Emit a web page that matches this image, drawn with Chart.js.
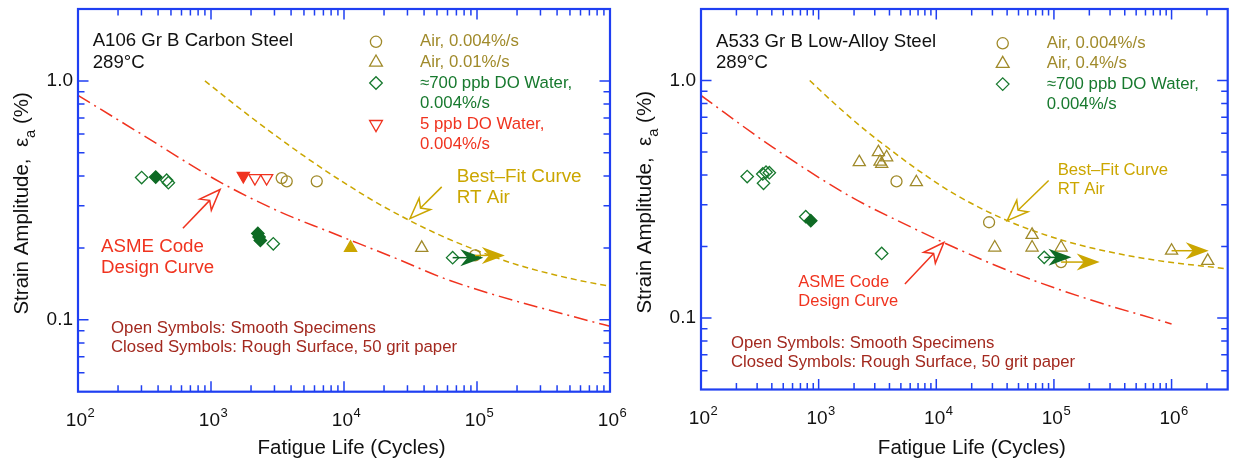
<!DOCTYPE html>
<html>
<head>
<meta charset="utf-8">
<script src="https://cdn.jsdelivr.net/npm/chart.js@4.4.1/dist/chart.umd.min.js"></script>
<style>
  body { margin: 0; background: #fff; }
  #wrap { position: relative; width: 1236px; height: 460px; overflow: hidden; background: #fff; }
  canvas { position: absolute; top: 0; }
</style>
</head>
<body>
<div id="wrap">
  <canvas id="leftChart" width="640" height="460" style="left:0"></canvas>
  <canvas id="rightChart" width="618" height="460" style="left:618px"></canvas>
</div>
<script>
const FONT = '"Liberation Sans", Arial, Helvetica, sans-serif'
const BLUE = '#1f3ff2'
const OLIVE = '#a08a2a'
const GOLD = '#cba600'
const GREEN = '#17792e'
const GREEN_DARK = '#0e6a24'
const RED = '#f0331f'
const BROWN = '#a3291f'

// axis ticks
const xTickDecades = [1e2, 1e3, 1e4, 1e5, 1e6]
const xTickExponents = ['2', '3', '4', '5', '6']
const yTickDecades = [0.01, 0.1, 1]
const yTickValues = [0.1, 1.0]
const yTickLabels = ['0.1', '1.0']
const minorSteps = [2, 3, 4, 5, 6, 7, 8, 9]

// A106 Gr B carbon steel, [cycles, strain %]
const csAirSlow = [[3400, 0.392], [3710, 0.380], [6240, 0.380], [96600, 0.186]]
const csAirFast = [[38400, 0.200]]
const csAirFastRough = [[11200, 0.200]]
const csWaterHigh = [[301, 0.394], [464, 0.384], [478, 0.375], [2940, 0.208], [65600, 0.182]]
const csWaterHighRough = [[384, 0.396], [2250, 0.230], [2300, 0.222], [2350, 0.215]]
const csWaterLow = [[2140, 0.392], [2620, 0.392]]
const csWaterLowRough = [[1750, 0.400]]
// runouts: [failed at N, arrow to N, strain]
const csRunoutsGreen = [[65600, 111500, 0.182]]
const csRunoutsGold = [[96600, 162000, 0.186]]
const csBestFitN = [900, 2000, 5000, 10000, 20000, 50000, 100000, 200000, 500000, 1000000]
const csBestFitE = [1.0, 0.705, 0.485, 0.375, 0.297, 0.229, 0.195, 0.170, 0.149, 0.138]
const csAsmeN = [100, 292, 1170, 3300, 7850, 25000, 62600, 745000, 1000000]
const csAsmeE = [0.87, 0.604, 0.377, 0.283, 0.233, 0.180, 0.146, 0.098, 0.094]

// A533 Gr B low-alloy steel
const lasAirSlow = [[4590, 0.376], [28100, 0.253], [115000, 0.172]]
const lasAirFast = [[2215, 0.453], [3220, 0.499], [3325, 0.455], [3435, 0.446], [3785, 0.475],
  [6770, 0.373], [31400, 0.198], [65200, 0.224], [65200, 0.198], [115000, 0.198],
  [1000000, 0.192], [2030000, 0.174]]
const lasWaterHigh = [[247, 0.394], [335, 0.404], [340, 0.369], [357, 0.411], [381, 0.409],
  [777, 0.267], [3435, 0.187], [82700, 0.180]]
const lasWaterHighRough = [[857, 0.257]]
const lasRunoutsGreen = [[82700, 141000, 0.180]]
const lasRunoutsGold = [[115000, 245000, 0.172], [1000000, 2070000, 0.192]]
const lasBestFitN = [840, 1400, 2570, 3790, 7460, 14700, 40100, 106000, 279000, 736000, 3000000]
const lasBestFitE = [1.0, 0.79, 0.61, 0.525, 0.41, 0.33, 0.257, 0.216, 0.191, 0.175, 0.161]
const lasAsmeN = [100, 406, 1920, 6150, 14300, 48600, 177000, 1000000]
const lasAsmeE = [0.865, 0.524, 0.322, 0.241, 0.198, 0.153, 0.122, 0.0944]

const pts = arr => arr.map(([n, e]) => ({ x: n, y: e }))

function marker(arr, style, color, filled, r, rot) {
  return {
    data: pts(arr), showLine: false, order: 1,
    pointStyle: style, pointRadius: r, pointHoverRadius: r, pointRotation: rot || 0,
    pointBorderColor: color, pointBackgroundColor: filled ? color : 'rgba(0,0,0,0)',
    pointBorderWidth: 1.3,
  }
}

function curve(ns, es, color, dash) {
  return {
    data: ns.map((n, i) => ({ x: n, y: es[i] })), showLine: true, order: 2,
    borderColor: color, borderWidth: 1.5, borderDash: dash, pointRadius: 0,
    cubicInterpolationMode: 'monotone', fill: false,
  }
}

function shapePath(ctx, shape, x, y, r) {
  ctx.beginPath()
  if (shape === 'circle') {
    ctx.arc(x, y, r, 0, Math.PI * 2)
  } else if (shape === 'diamond') {
    ctx.moveTo(x - r, y); ctx.lineTo(x, y - r); ctx.lineTo(x + r, y); ctx.lineTo(x, y + r); ctx.closePath()
  } else {
    const s = shape === 'triangle' ? 1 : -1
    const h = r * Math.sqrt(3) / 2
    ctx.moveTo(x, y - s * r); ctx.lineTo(x + h, y + s * r / 2); ctx.lineTo(x - h, y + s * r / 2); ctx.closePath()
  }
}

// barbed arrow head, tip at (tx,ty) pointing along ang
function headPath(ctx, tx, ty, ang, len, half, notch) {
  const c = Math.cos(ang), s = Math.sin(ang)
  const p = (u, v) => [tx + u * c - v * s, ty + u * s + v * c]
  ctx.beginPath()
  ctx.moveTo(tx, ty)
  ctx.lineTo(...p(-len, -half))
  ctx.lineTo(...p(-len + notch, 0))
  ctx.lineTo(...p(-len, half))
  ctx.closePath()
}

function runout(ctx, x, y, [n0, n1, e], color) {
  const x0 = x.getPixelForValue(n0), x1 = x.getPixelForValue(n1), py = y.getPixelForValue(e)
  ctx.strokeStyle = color; ctx.fillStyle = color; ctx.lineWidth = 1.5; ctx.setLineDash([])
  ctx.beginPath(); ctx.moveTo(x0, py); ctx.lineTo(x1 - 12, py); ctx.stroke()
  headPath(ctx, x1, py, 0, 23, 8.5, 7)
  ctx.fill()
}

function pointer(ctx, x, y, p) {
  const tx = x.getPixelForValue(p.from[0]), ty = y.getPixelForValue(p.from[1])
  const hx = x.getPixelForValue(p.to[0]), hy = y.getPixelForValue(p.to[1])
  const ang = Math.atan2(hy - ty, hx - tx)
  const back = 21 - 6
  ctx.strokeStyle = p.color; ctx.lineWidth = 1.5; ctx.setLineDash([])
  ctx.beginPath(); ctx.moveTo(tx, ty)
  ctx.lineTo(hx - back * Math.cos(ang), hy - back * Math.sin(ang)); ctx.stroke()
  headPath(ctx, hx, hy, ang, 21, 8, 6)
  ctx.fillStyle = '#fff'; ctx.fill(); ctx.stroke()
}

function text(ctx, str, x, y, size, color, align) {
  ctx.font = size + 'px ' + FONT
  ctx.fillStyle = color
  ctx.textAlign = align || 'left'
  ctx.textBaseline = 'middle'
  ctx.fillText(str, x, y)
}

function drawFrame(ctx, a, x, y) {
  ctx.strokeStyle = BLUE; ctx.lineWidth = 1.5; ctx.setLineDash([])
  ctx.beginPath()
  for (const d of xTickDecades) {
    for (const m of [1, ...minorSteps]) {
      const v = d * m
      if (v <= x.min || v >= x.max) continue
      const px = x.getPixelForValue(v), len = m === 1 ? 10.5 : 6.5
      ctx.moveTo(px, a.bottom); ctx.lineTo(px, a.bottom - len)
      ctx.moveTo(px, a.top); ctx.lineTo(px, a.top + len)
    }
  }
  for (const d of yTickDecades) {
    for (const m of [1, ...minorSteps]) {
      const v = d * m
      if (v <= y.min * 1.001 || v >= 1.001) continue
      const py = y.getPixelForValue(v), len = m === 1 ? 10.5 : 6.5
      ctx.moveTo(a.left, py); ctx.lineTo(a.left + len, py)
      ctx.moveTo(a.right, py); ctx.lineTo(a.right - len, py)
    }
  }
  ctx.stroke()
  ctx.lineWidth = 2.2
  ctx.strokeRect(a.left, a.top, a.right - a.left, a.bottom - a.top)
}

function drawAxisLabels(ctx, a, x, y, p) {
  yTickValues.forEach((v, i) => text(ctx, yTickLabels[i], a.left - 5, y.getPixelForValue(v), 19, '#111', 'right'))
  xTickDecades.forEach((d, i) => {
    if (d < x.min || d > x.max) return
    const px = x.getPixelForValue(d), py = a.bottom + 27.3
    ctx.font = '19px ' + FONT
    const w1 = ctx.measureText('10').width
    ctx.font = '13px ' + FONT
    const w2 = ctx.measureText(xTickExponents[i]).width
    const x0 = px + 2 - (w1 + w2) / 2
    ctx.fillStyle = '#111'; ctx.textAlign = 'left'; ctx.textBaseline = 'alphabetic'
    ctx.font = '19px ' + FONT
    ctx.fillText('10', x0, py + 6.8)
    ctx.font = '13px ' + FONT
    ctx.fillText(xTickExponents[i], x0 + w1 + 0.5, py - 1.6)
  })
  // x title
  text(ctx, 'Fatigue Life (Cycles)', (a.left + a.right) / 2 + 7.5, 448.3, 20.5, '#111', 'center')
  // y title with subscript
  const size = 20.5
  const parts = [['Strain Amplitude,  ε', size, 0], ['a', size * 0.72, size * 0.3], [' (%)', size, 0]]
  ctx.save()
  ctx.translate(a.left - 57, (a.top + a.bottom) / 2 + 3)
  ctx.rotate(-Math.PI / 2)
  let total = 0
  for (const [s, f] of parts) { ctx.font = f + 'px ' + FONT; total += ctx.measureText(s).width }
  let cx = -total / 2
  ctx.fillStyle = '#111'; ctx.textAlign = 'left'; ctx.textBaseline = 'alphabetic'
  for (const [s, f, dy] of parts) {
    ctx.font = f + 'px ' + FONT
    ctx.fillText(s, cx, size * 0.36 + dy)
    cx += ctx.measureText(s).width
  }
  ctx.restore()
}

function panelPlugin(p) {
  return {
    id: 'panel',
    afterDatasetsDraw(chart) {
      const { ctx, scales: { x, y } } = chart
      ctx.save()
      p.runoutsGreen.forEach(r => runout(ctx, x, y, r, GREEN_DARK))
      p.runoutsGold.forEach(r => runout(ctx, x, y, r, GOLD))
      p.pointers.forEach(q => pointer(ctx, x, y, q))
      ctx.restore()
    },
    afterDraw(chart) {
      const { ctx, chartArea: a, scales: { x, y } } = chart
      ctx.save()
      drawFrame(ctx, a, x, y)
      drawAxisLabels(ctx, a, x, y, p)
      p.title.forEach((s, i) => text(ctx, s, a.left + p.titleAt[0], a.top + p.titleAt[1] + i * 21.6, 18.6, '#111'))
      let row = 0
      for (const item of p.legend) {
        const ly = a.top + p.legendAt[1] + row * p.legendPitch
        ctx.strokeStyle = item.color; ctx.lineWidth = 1.3; ctx.setLineDash([])
        shapePath(ctx, item.shape, a.left + p.legendAt[0], ly, item.shape === 'circle' ? 5.6 : item.shape === 'diamond' ? 6.3 : 7.4)
        ctx.stroke()
        item.lines.forEach((s, i) => text(ctx, s, a.left + p.legendAt[2], ly + i * p.legendPitch, 16.8, item.textColor))
        row += item.lines.length
      }
      for (const t of p.notes) {
        t.lines.forEach((s, i) => text(ctx, s, a.left + t.at[0], a.top + t.at[1] + i * t.pitch, t.size, t.color))
      }
      ctx.restore()
    },
  }
}

function makeChart(id, p, datasets) {
  return new Chart(document.getElementById(id), {
    type: 'scatter',
    data: { datasets },
    options: {
      responsive: false,
      animation: false,
      events: [],
      layout: { padding: p.padding },
      scales: {
        x: { type: 'logarithmic', min: 100, max: p.xMax, display: false },
        y: { type: 'logarithmic', min: 0.05, max: 2, display: false },
      },
      plugins: { legend: { display: false }, tooltip: { enabled: false } },
    },
    plugins: [panelPlugin(p)],
  })
}

const legendWater = { shape: 'diamond', color: GREEN, textColor: GREEN, lines: ['≈700 ppb DO Water,', '0.004%/s'] }

makeChart('leftChart', {
  xMax: 1e6,
  padding: { left: 78, right: 30, top: 9, bottom: 68.3 },
  title: ['A106 Gr B Carbon Steel', '289°C'],
  titleAt: [14.7, 31.8],
  legendAt: [298, 32.8, 342],
  legendPitch: 20.6,
  legend: [
    { shape: 'circle', color: OLIVE, textColor: OLIVE, lines: ['Air, 0.004%/s'] },
    { shape: 'triangle', color: OLIVE, textColor: OLIVE, lines: ['Air, 0.01%/s'] },
    legendWater,
    { shape: 'triangleDown', color: RED, textColor: RED, lines: ['5 ppb DO Water,', '0.004%/s'] },
  ],
  notes: [
    { lines: ['Best–Fit Curve', 'RT Air'], at: [378.7, 167.3], pitch: 21.2, size: 18.9, color: GOLD },
    { lines: ['ASME Code', 'Design Curve'], at: [23, 238], pitch: 21, size: 18.7, color: RED },
    { lines: ['Open Symbols: Smooth Specimens', 'Closed Symbols: Rough Surface, 50 grit paper'], at: [33, 319.8], pitch: 19, size: 16.8, color: BROWN },
  ],
  pointers: [
    { from: [54300, 0.36], to: [31300, 0.265], color: GOLD },
    { from: [615, 0.2415], to: [1170, 0.351], color: RED },
  ],
  runoutsGreen: csRunoutsGreen,
  runoutsGold: csRunoutsGold,
}, [
  marker(csWaterLowRough, 'triangle', RED, true, 7, 180),
  marker(csWaterLow, 'triangle', RED, false, 7, 180),
  marker(csAirFastRough, 'triangle', GOLD, true, 7),
  marker(csAirFast, 'triangle', OLIVE, false, 7),
  marker(csAirSlow, 'circle', OLIVE, false, 5.5),
  marker(csWaterHighRough, 'rectRot', GREEN_DARK, true, 6.2),
  marker(csWaterHigh, 'rectRot', GREEN, false, 6.2),
  curve(csBestFitN, csBestFitE, GOLD, [6, 4]),
  curve(csAsmeN, csAsmeE, RED, [14, 5, 2, 5]),
])

makeChart('rightChart', {
  xMax: 3e6,
  padding: { left: 83, right: 4.3, top: 9, bottom: 70.5 },
  title: ['A533 Gr B Low-Alloy Steel', '289°C'],
  titleAt: [15, 32.7],
  legendAt: [301.7, 34.3, 345.7],
  legendPitch: 20.4,
  legend: [
    { shape: 'circle', color: OLIVE, textColor: OLIVE, lines: ['Air, 0.004%/s'] },
    { shape: 'triangle', color: OLIVE, textColor: OLIVE, lines: ['Air, 0.4%/s'] },
    legendWater,
  ],
  notes: [
    { lines: ['Best–Fit Curve', 'RT Air'], at: [356.7, 161.5], pitch: 18.7, size: 16.7, color: GOLD },
    { lines: ['ASME Code', 'Design Curve'], at: [97.3, 273.5], pitch: 19, size: 16.5, color: RED },
    { lines: ['Open Symbols: Smooth Specimens', 'Closed Symbols: Rough Surface, 50 grit paper'], at: [30, 334.3], pitch: 19, size: 16.7, color: BROWN },
  ],
  pointers: [
    { from: [90200, 0.379], to: [40100, 0.257], color: GOLD },
    { from: [5410, 0.139], to: [11600, 0.208], color: RED },
  ],
  runoutsGreen: lasRunoutsGreen,
  runoutsGold: lasRunoutsGold,
}, [
  marker(lasAirFast, 'triangle', OLIVE, false, 7),
  marker(lasAirSlow, 'circle', OLIVE, false, 5.5),
  marker(lasWaterHighRough, 'rectRot', GREEN_DARK, true, 6.2),
  marker(lasWaterHigh, 'rectRot', GREEN, false, 6.2),
  curve(lasBestFitN, lasBestFitE, GOLD, [6, 4]),
  curve(lasAsmeN, lasAsmeE, RED, [14, 5, 2, 5]),
])
</script>
</body>
</html>
